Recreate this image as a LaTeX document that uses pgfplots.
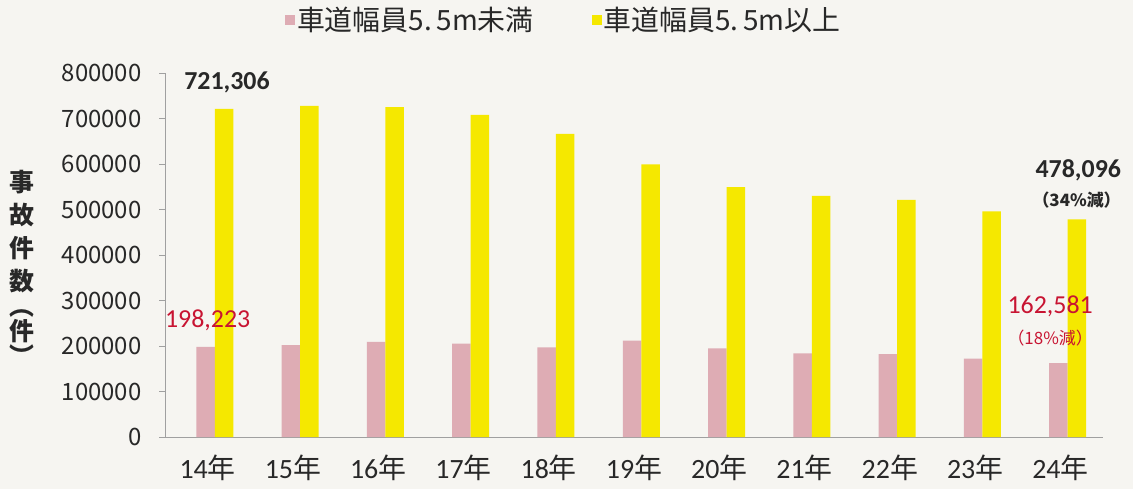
\documentclass[border=0pt]{standalone}
\usepackage{fontspec}
\usepackage{pgfplots}
\pgfplotsset{compat=1.18}
\setmainfont{Carlito}
\newfontfamily\jp{Noto Sans CJK JP}

\definecolor{paper}{RGB}{246,245,241}
\definecolor{pinkbar}{RGB}{222,172,180}
\definecolor{yellowbar}{RGB}{245,232,0}
\definecolor{redlab}{RGB}{200,20,50}
\definecolor{darklab}{RGB}{40,40,40}
\definecolor{axisgray}{RGB}{160,160,160}

\begin{document}
\begin{tikzpicture}
\path[use as bounding box, fill=paper] (0,0) rectangle (1133bp,489bp);

\begin{axis}[%
at={(165bp,52bp)},
anchor=south west,
width=938bp,
height=364bp,
scale only axis,
clip=false,
xmin=-0.5,
xmax=10.5,
ymin=0,
ymax=800000,
scaled y ticks=false,
axis x line*=bottom,
axis y line*=left,
axis line style={axisgray,-},
tick align=outside,
major tick length=6bp,
tick style={axisgray},
xtick={0,...,10},
xticklabels={14{\jp 年},15{\jp 年},16{\jp 年},17{\jp 年},18{\jp 年},19{\jp 年},20{\jp 年},21{\jp 年},22{\jp 年},23{\jp 年},24{\jp 年}},
major x tick style={draw=none},
extra x ticks={-0.5,0.5,...,10.5},
extra x tick labels={},
extra x tick style={tick style={axisgray}},
xticklabel style={font=\fontsize{28}{28}\selectfont, text=darklab, yshift=-8bp},
ytick={0,100000,...,800000},
yticklabels={0,100000,200000,300000,400000,500000,600000,700000,800000},
yticklabel style={font=\jp\fontsize{24}{24}\selectfont, text=darklab, xshift=-14bp},
legend columns=2,
legend style={at={(0.425,1.146)},anchor=center,draw=none,fill=none,
  font=\jp\fontsize{28}{28}\selectfont,text=darklab,
  /tikz/every even column/.append style={column sep=56bp}},
legend image code/.code={\fill[#1] (0bp,-5bp) rectangle (10bp,5bp);},
]
\addplot[ybar,bar width=18.5bp,bar shift=-2bp,draw=none,fill=pinkbar] coordinates{
(0,198223) (1,202000) (2,209000) (3,205000) (4,197000) (5,212000)
(6,195000) (7,184000) (8,182000) (9,172000) (10,162581)};
\addlegendentry{車道幅員5.\,5m未満}

\addplot[ybar,bar width=18.5bp,bar shift=16.5bp,draw=none,fill=yellowbar] coordinates{
(0,721306) (1,728000) (2,725000) (3,708000) (4,666000) (5,599000)
(6,549000) (7,530000) (8,521000) (9,496000) (10,478096)};
\addlegendentry{車道幅員5.\,5m以上}

\node[font=\bfseries\fontsize{26}{26}\selectfont, text=darklab] at (axis cs:0.227,780000) {721,306};
\node[font=\fontsize{26}{26}\selectfont, text=redlab] at (axis cs:0,257000) {198,223};
\node[font=\bfseries\fontsize{26}{26}\selectfont, text=darklab] at (axis cs:10.21,587000) {478,096};
\node[font=\jp\bfseries\fontsize{17}{17}\selectfont, text=darklab] at (axis cs:10.19,521000) {（34\%減）};
\node[font=\fontsize{26}{26}\selectfont, text=redlab] at (axis cs:9.88,288000) {162,581};
\node[font=\jp\fontsize{17}{17}\selectfont, text=redlab] at (axis cs:9.88,218000) {（18\%減）};

\node[font=\jp\bfseries\fontsize{25}{33}\selectfont, text=darklab, align=center]
  at (rel axis cs:-0.152,0.465) {事\\故\\件\\数\\[-8bp]︵\\[-8bp]件\\[-8bp]︶};
\end{axis}
\end{tikzpicture}
\end{document}
